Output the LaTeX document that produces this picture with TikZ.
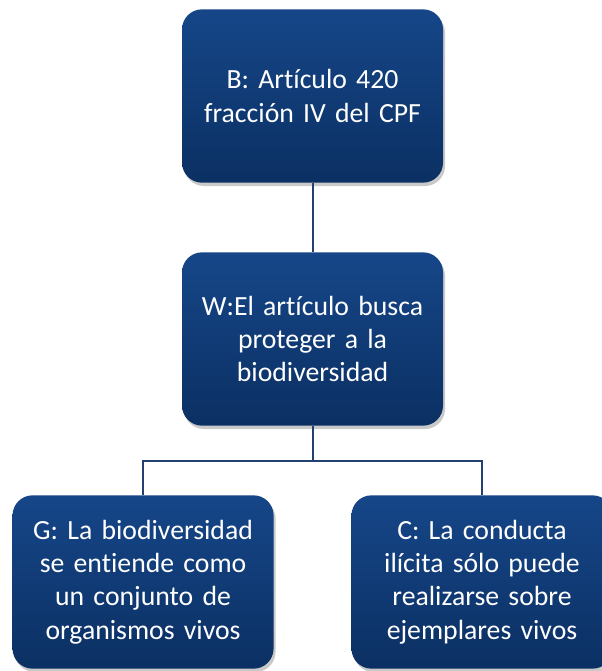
\documentclass[tikz,border=0pt]{standalone}
\usepackage{fontspec}
\setmainfont{Carlito}[Ligatures=NoCommon]
\usetikzlibrary{shadows}

\definecolor{boxtop}{RGB}{22,70,136}
\definecolor{boxbot}{RGB}{11,48,99}
\definecolor{linkcol}{RGB}{34,64,112}

\begin{document}
\begin{tikzpicture}[node distance=182.25pt,
        argbox/.style={rectangle, rounded corners=15pt, minimum width=195.75pt,
          minimum height=130pt, inner sep=0pt, text width=190pt, align=center,
          top color=boxtop, bottom color=boxbot, text=white,
          font=\fontsize{20.8}{25}\selectfont,
          drop shadow={shadow xshift=1.5pt, shadow yshift=-2.5pt, opacity=0.3, fill=black!70}},
        link/.style={draw=linkcol, line width=1.5pt}]

  \useasboundingbox (-234.4pt,72pt) rectangle (216.4pt,-431.25pt);

  \node[argbox] (b) {B: Artículo 420\\fracción IV del CPF};
  \node[argbox] (w) [below of=b] {W:El artículo busca\\proteger a la\\biodiversidad};
  \node[argbox] (g) [below of=w, xshift=-127.1pt] {G: La biodiversidad\\se entiende como\\un conjunto de\\organismos vivos};
  \node[argbox] (c) [below of=w, xshift=127.1pt] {C: La conducta\\ilícita sólo puede\\realizarse sobre\\ejemplares vivos};
  \path (w.south) ++(0,-26.25pt) coordinate (fork);

  \draw[link] (b) -- (w);
  \draw[link] (w) -- (fork);
  \draw[link] (fork) -| (g.north);
  \draw[link] (fork) -| (c.north);

\end{tikzpicture}
\end{document}
